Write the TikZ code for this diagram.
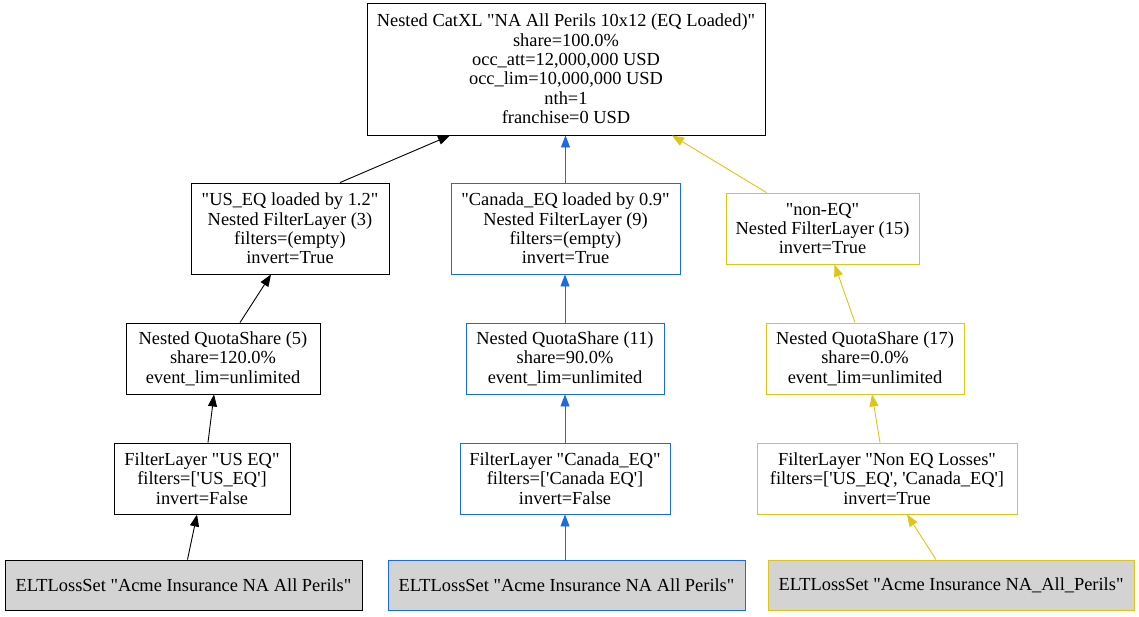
\documentclass[tikz,border=0pt]{standalone}
\usepackage{fontspec}
\setmainfont{Liberation Serif}[Ligatures=TeXOff]
\usetikzlibrary{arrows.meta}
\definecolor{cblue}{HTML}{1A6CE0}
\definecolor{cyel}{HTML}{DCC61A}
\definecolor{cgray}{HTML}{D3D3D3}
\begin{document}
\begin{tikzpicture}[x=1pt,y=-1pt,
  box/.style={draw, line width=0.9pt, align=center, inner sep=0pt,
    font=\fontsize{18.4}{19.4}\selectfont},
  elt/.style={box, fill=cgray, minimum height=50pt},
  edge/.style={line width=0.9pt, -{Triangle[length=12pt,width=9pt]}},
  blk/.style={draw=black},
  blu/.style={draw=cblue},
  yel/.style={draw=cyel}]
\useasboundingbox (0,0) rectangle (1139,616);
% top
\node[box, minimum width=398pt, minimum height=132pt] (top) at (566,69)
  {Nested CatXL "NA All Perils 10x12 (EQ Loaded)"\\share=100.0\%\\occ\_att=12,000,000 USD\\occ\_lim=10,000,000 USD\\nth=1\\franchise=0 USD};
% row 2
\node[box, blk, minimum width=198pt, minimum height=91pt] (usfl) at (290,228.5)
  {"US\_EQ loaded by 1.2"\\Nested FilterLayer (3)\\filters=(empty)\\invert=True};
\node[box, blu, minimum width=229pt, minimum height=91pt] (cafl) at (565.5,228.5)
  {"Canada\_EQ loaded by 0.9"\\Nested FilterLayer (9)\\filters=(empty)\\invert=True};
\node[box, yel, minimum width=193pt, minimum height=71pt] (nofl) at (822.5,228.5)
  {"non-EQ"\\Nested FilterLayer (15)\\invert=True};
% row 3
\node[box, blk, minimum width=194pt, minimum height=71pt] (usqs) at (223,358.5)
  {Nested QuotaShare (5)\\share=120.0\%\\event\_lim=unlimited};
\node[box, blu, minimum width=198pt, minimum height=71pt] (caqs) at (565,358.5)
  {Nested QuotaShare (11)\\share=90.0\%\\event\_lim=unlimited};
\node[box, yel, minimum width=198pt, minimum height=71pt] (noqs) at (865,358.5)
  {Nested QuotaShare (17)\\share=0.0\%\\event\_lim=unlimited};
% row 4
\node[box, blk, minimum width=176pt, minimum height=71pt] (usf) at (202,478.5)
  {FilterLayer "US EQ"\\filters=['US\_EQ']\\invert=False};
\node[box, blu, minimum width=210pt, minimum height=71pt] (caf) at (565,478.5)
  {FilterLayer "Canada\_EQ"\\filters=['Canada EQ']\\invert=False};
\node[box, yel, minimum width=260pt, minimum height=71pt] (nof) at (887,478.5)
  {FilterLayer "Non EQ Losses"\\filters=['US\_EQ', 'Canada\_EQ']\\invert=True};
% row 5
\node[elt, blk, minimum width=357pt] (elt1) at (183.5,585) {ELTLossSet "Acme Insurance NA All Perils"};
\node[elt, blu, minimum width=357pt] (elt2) at (566.5,585) {ELTLossSet "Acme Insurance NA All Perils"};
\node[elt, yel, minimum width=366pt] (elt3) at (951,585) {ELTLossSet "Acme Insurance NA\_All\_Perils"};
% edges black
\draw[edge, black] ([xshift=4pt]elt1.north) -- ([xshift=-5pt]usf.south);
\draw[edge, black] ([xshift=6pt]usf.north) -- ([xshift=-9pt]usqs.south);
\draw[edge, black] ([xshift=17pt]usqs.north) -- ([xshift=-19pt]usfl.south);
\draw[edge, black] ([xshift=50pt]usfl.north) -- ([xshift=-116pt]top.south);
% edges blue
\draw[edge, cblue] (elt2.north -| caf.south) -- (caf.south);
\draw[edge, cblue] (caf.north) -- (caqs.south);
\draw[edge, cblue] (caqs.north) -- (caqs.north |- cafl.south);
\draw[edge, cblue] (cafl.north) -- (cafl.north |- top.south);
% edges yellow
\draw[edge, cyel] ([xshift=-15pt]elt3.north) -- ([xshift=20pt]nof.south);
\draw[edge, cyel] ([xshift=-7pt]nof.north) -- ([xshift=7pt]noqs.south);
\draw[edge, cyel] ([xshift=-10pt]noqs.north) -- ([xshift=12pt]nofl.south);
\draw[edge, cyel] ([xshift=-56pt]nofl.north) -- ([xshift=106pt]top.south);
\end{tikzpicture}
\end{document}
